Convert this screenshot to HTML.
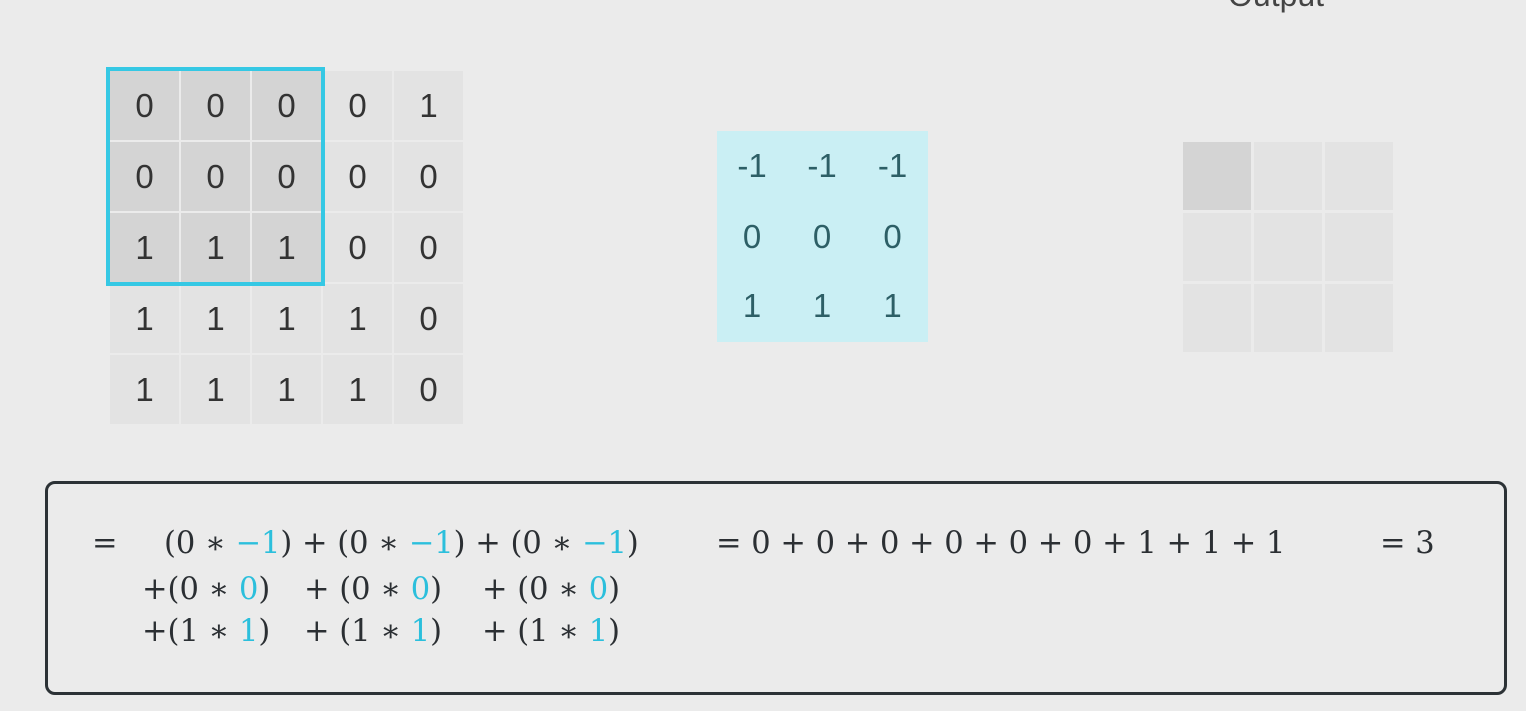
<!DOCTYPE html>
<html><head><style>
body{margin:0;width:1526px;height:711px;background:#ebebeb;position:relative;overflow:hidden;font-family:"Liberation Sans",sans-serif}
.c{position:absolute;width:69px;height:69px;background:#e3e3e3;color:#333;font-size:33px;line-height:69px;text-align:center}
.d{background:#d4d4d4}
.k{background:#caeff4;color:#2d5f66}
.m{position:absolute;font-family:"DejaVu Serif","Liberation Serif",serif;font-size:30.5px;color:#2b2f33;white-space:pre}
.b{color:#2bbfdc}
</style></head><body>
<div style="position:absolute;left:1228px;top:-23px;font-size:32px;color:#444">Output</div>
<div class="c d" style="left:110px;top:71px">0</div><div class="c d" style="left:181px;top:71px">0</div><div class="c d" style="left:252px;top:71px">0</div><div class="c" style="left:323px;top:71px">0</div><div class="c" style="left:394px;top:71px">1</div>
<div class="c d" style="left:110px;top:142px">0</div><div class="c d" style="left:181px;top:142px">0</div><div class="c d" style="left:252px;top:142px">0</div><div class="c" style="left:323px;top:142px">0</div><div class="c" style="left:394px;top:142px">0</div>
<div class="c d" style="left:110px;top:213px">1</div><div class="c d" style="left:181px;top:213px">1</div><div class="c d" style="left:252px;top:213px">1</div><div class="c" style="left:323px;top:213px">0</div><div class="c" style="left:394px;top:213px">0</div>
<div class="c" style="left:110px;top:284px">1</div><div class="c" style="left:181px;top:284px">1</div><div class="c" style="left:252px;top:284px">1</div><div class="c" style="left:323px;top:284px">1</div><div class="c" style="left:394px;top:284px">0</div>
<div class="c" style="left:110px;top:355px">1</div><div class="c" style="left:181px;top:355px">1</div><div class="c" style="left:252px;top:355px">1</div><div class="c" style="left:323px;top:355px">1</div><div class="c" style="left:394px;top:355px">0</div>
<div style="position:absolute;left:106px;top:67px;width:211px;height:211px;border:4px solid #35c8e4"></div>
<div class="c k" style="left:717px;top:131px;width:70px;height:70px">-1</div><div class="c k" style="left:787px;top:131px;width:70px;height:70px">-1</div><div class="c k" style="left:857px;top:131px;width:71px;height:70px">-1</div>
<div class="c k" style="left:717px;top:201px;width:70px;height:70px;line-height:72px">0</div><div class="c k" style="left:787px;top:201px;width:70px;height:70px;line-height:72px">0</div><div class="c k" style="left:857px;top:201px;width:71px;height:70px;line-height:72px">0</div>
<div class="c k" style="left:717px;top:271px;width:70px;height:71px">1</div><div class="c k" style="left:787px;top:271px;width:70px;height:71px">1</div><div class="c k" style="left:857px;top:271px;width:71px;height:71px">1</div>
<div class="c d" style="left:1183px;top:142px;width:68px;height:68px"></div><div class="c" style="left:1254px;top:142px;width:68px;height:68px"></div><div class="c" style="left:1325px;top:142px;width:68px;height:68px"></div>
<div class="c" style="left:1183px;top:213px;width:68px;height:68px"></div><div class="c" style="left:1254px;top:213px;width:68px;height:68px"></div><div class="c" style="left:1325px;top:213px;width:68px;height:68px"></div>
<div class="c" style="left:1183px;top:284px;width:68px;height:68px"></div><div class="c" style="left:1254px;top:284px;width:68px;height:68px"></div><div class="c" style="left:1325px;top:284px;width:68px;height:68px"></div>
<div style="position:absolute;left:45px;top:481px;width:1456px;height:208px;border:3px solid #2c3236;border-radius:10px"></div>
<div class="m" style="left:92px;top:526px">=</div>
<div class="m" style="left:164px;top:526px">(0 ∗ <span class="b">−1</span>) + (0 ∗ <span class="b">−1</span>) + (0 ∗ <span class="b">−1</span>)</div>
<div class="m" style="left:142px;top:572px">+(0 ∗ <span class="b">0</span>)</div>
<div class="m" style="left:304px;top:572px">+ (0 ∗ <span class="b">0</span>)</div>
<div class="m" style="left:482px;top:572px">+ (0 ∗ <span class="b">0</span>)</div>
<div class="m" style="left:142px;top:614px">+(1 ∗ <span class="b">1</span>)</div>
<div class="m" style="left:304px;top:614px">+ (1 ∗ <span class="b">1</span>)</div>
<div class="m" style="left:482px;top:614px">+ (1 ∗ <span class="b">1</span>)</div>
<div class="m" style="left:716px;top:526px">= 0 + 0 + 0 + 0 + 0 + 0 + 1 + 1 + 1</div>
<div class="m" style="left:1380px;top:526px">= 3</div>
</body></html>
